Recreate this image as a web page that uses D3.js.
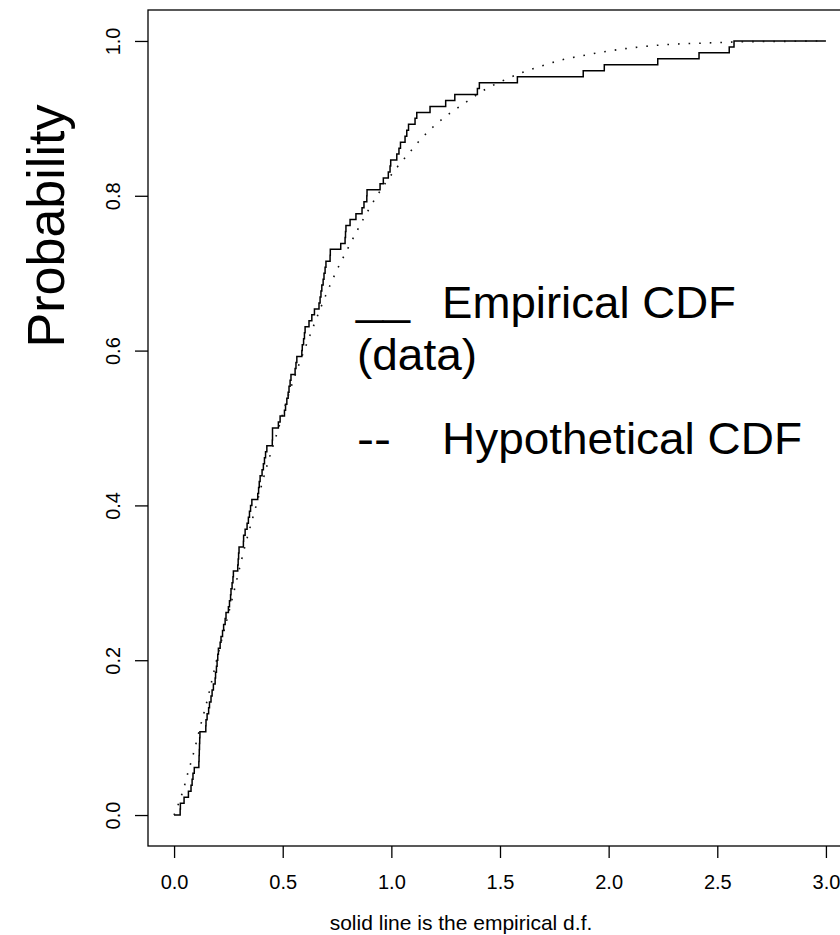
<!DOCTYPE html>
<html>
<head>
<meta charset="utf-8">
<script src="https://cdn.jsdelivr.net/npm/d3@7"></script>
<style>
  html, body { margin: 0; padding: 0; background: #fff; }
  svg { display: block; }
  text { font-family: "Liberation Sans", Arial, Helvetica, sans-serif; fill: #000; }
</style>
</head>
<body>
<svg id="chart" width="840" height="935"></svg>
<script>
// Sorted sample values behind the empirical distribution function
const sampleValues = [
  0.028, 0.029, 0.046, 0.066, 0.078, 0.083, 0.087, 0.093, 0.114, 0.115,
  0.116, 0.117, 0.118, 0.119, 0.146, 0.147, 0.152, 0.159, 0.163, 0.170,
  0.175, 0.181, 0.189, 0.191, 0.195, 0.198, 0.201, 0.204, 0.212, 0.216,
  0.223, 0.228, 0.235, 0.239, 0.250, 0.255, 0.260, 0.262, 0.267, 0.271,
  0.273, 0.293, 0.295, 0.297, 0.299, 0.319, 0.320, 0.327, 0.336, 0.342,
  0.347, 0.352, 0.358, 0.385, 0.389, 0.392, 0.396, 0.405, 0.411, 0.416,
  0.421, 0.427, 0.452, 0.453, 0.453, 0.480, 0.488, 0.508, 0.513, 0.519,
  0.525, 0.529, 0.534, 0.538, 0.557, 0.561, 0.565, 0.588, 0.590, 0.596,
  0.600, 0.603, 0.621, 0.634, 0.646, 0.667, 0.672, 0.676, 0.680, 0.686,
  0.690, 0.695, 0.699, 0.718, 0.719, 0.767, 0.787, 0.789, 0.791, 0.810,
  0.837, 0.865, 0.874, 0.887, 0.888, 0.948, 0.963, 0.986, 0.994, 0.997,
  1.025, 1.035, 1.042, 1.063, 1.071, 1.079, 1.109, 1.117, 1.178, 1.250,
  1.292, 1.396, 1.405, 1.580, 1.883, 1.980, 2.226, 2.416, 2.555, 2.577
];

// Hypothetical (fitted) CDF, sampled along x
const hypoX = [0, 0.017, 0.043, 0.064, 0.086, 0.106, 0.126, 0.146, 0.200, 0.261,
  0.327, 0.381, 0.422, 0.469, 0.542, 0.584, 0.638, 0.699, 0.751, 0.787,
  0.925, 1.021, 1.078, 1.135, 1.196, 1.267, 1.344, 1.423, 1.508, 1.600,
  1.695, 1.791, 1.899, 2.000, 2.103, 2.205, 2.308, 2.412, 2.512, 2.615,
  2.819, 2.977];
const hypoP = [0, 0.012, 0.033, 0.055, 0.076, 0.098, 0.120, 0.141, 0.205, 0.272,
  0.348, 0.403, 0.446, 0.489, 0.556, 0.589, 0.629, 0.672, 0.705, 0.725,
  0.796, 0.835, 0.854, 0.873, 0.890, 0.906, 0.921, 0.936, 0.948, 0.959,
  0.968, 0.976, 0.982, 0.987, 0.991, 0.994, 0.996, 0.997, 0.998, 0.999,
  0.9995, 1.000];

const xTicks = [0, 0.5, 1.0, 1.5, 2.0, 2.5, 3.0];
const yTicks = [0, 0.2, 0.4, 0.6, 0.8, 1.0];
const xRange = [0, 3];

const yTitle = "Probability";
const subTitle = "solid line is the empirical d.f.";
const legendEmpirical = ["__", "Empirical CDF", "(data)"];
const legendHypo = ["--", "Hypothetical CDF"];

const svg = d3.select("#chart");
svg.append("rect").attr("width", 840).attr("height", 935).attr("fill", "#fff");

// Plot region extends 4% beyond the data range on each side
const x = d3.scaleLinear().domain([-0.12, 3.12]).range([148, 852]);
const y = d3.scaleLinear().domain([-0.04, 1.04]).range([846, 10]);

// Empirical step function
const n = sampleValues.length;
const stepPts = [[xRange[0], 0]]
  .concat(sampleValues.map((v, i) => [v, (i + 1) / n]))
  .concat([[xRange[1], 1]]);

svg.append("path")
  .datum(stepPts)
  .attr("fill", "none")
  .attr("stroke", "#000")
  .attr("stroke-width", 1.5)
  .attr("d", d3.line().x(d => x(d[0])).y(d => y(d[1])).curve(d3.curveStepAfter));

// Hypothetical CDF, dotted
svg.append("path")
  .datum(hypoX.map((v, i) => [v, hypoP[i]]))
  .attr("fill", "none")
  .attr("stroke", "#111")
  .attr("stroke-width", 1.6)
  .attr("stroke-dasharray", "1.6 9")
  .attr("d", d3.line().x(d => x(d[0])).y(d => y(d[1])).curve(d3.curveMonotoneX));

// Frame around the plot region
svg.append("rect")
  .attr("x", x.range()[0]).attr("y", y.range()[1])
  .attr("width", x.range()[1] - x.range()[0])
  .attr("height", y.range()[0] - y.range()[1])
  .attr("fill", "none").attr("stroke", "#000").attr("stroke-width", 1.3);

// Bottom axis
const gx = svg.append("g")
  .attr("transform", `translate(0,${y.range()[0]})`)
  .call(d3.axisBottom(x).tickValues(xTicks).tickSize(12).tickPadding(17)
    .tickFormat(d3.format(".1f")));
gx.select(".domain").remove();
gx.selectAll(".tick line").attr("stroke", "#000").attr("stroke-width", 1.3);
gx.selectAll(".tick text").attr("font-size", 20).attr("font-family", null);

// Left axis, labels parallel to the axis
const gy = svg.append("g")
  .attr("transform", `translate(${x.range()[0]},0)`)
  .call(d3.axisLeft(y).tickValues(yTicks).tickSize(13)
    .tickFormat(d3.format(".1f")));
gy.select(".domain").remove();
gy.selectAll(".tick line").attr("stroke", "#000").attr("stroke-width", 1.3);
gy.selectAll(".tick text")
  .attr("font-size", 20).attr("font-family", null)
  .attr("x", 0).attr("dy", 0)
  .attr("text-anchor", "middle")
  .attr("transform", "translate(-28,0) rotate(-90)");

// Axis title and subtitle
svg.append("text")
  .attr("transform", "translate(64,226) rotate(-90)")
  .attr("text-anchor", "middle")
  .attr("font-size", 52)
  .text(yTitle);

svg.append("text")
  .attr("x", 461).attr("y", 930)
  .attr("text-anchor", "middle")
  .attr("font-size", 21)
  .text(subTitle);

// Legend text
const legend = svg.append("g").attr("font-size", 45);
legend.append("text").attr("x", 356).attr("y", 314)
  .attr("textLength", 54).attr("lengthAdjust", "spacingAndGlyphs").text(legendEmpirical[0]);
legend.append("text").attr("x", 442).attr("y", 318)
  .attr("textLength", 294).attr("lengthAdjust", "spacingAndGlyphs").text(legendEmpirical[1]);
legend.append("text").attr("x", 357).attr("y", 370)
  .attr("textLength", 120).attr("lengthAdjust", "spacingAndGlyphs").text(legendEmpirical[2]);
legend.append("text").attr("x", 357).attr("y", 454)
  .attr("textLength", 34).attr("lengthAdjust", "spacingAndGlyphs").text(legendHypo[0]);
legend.append("text").attr("x", 442).attr("y", 454)
  .attr("textLength", 360).attr("lengthAdjust", "spacingAndGlyphs").text(legendHypo[1]);
</script>
</body>
</html>
